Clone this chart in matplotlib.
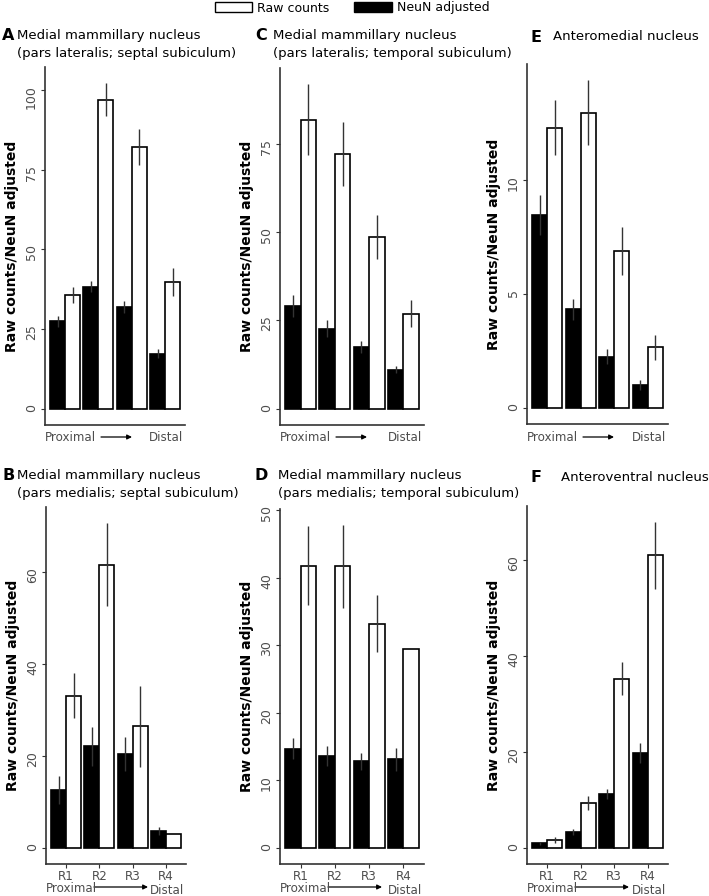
import matplotlib
matplotlib.use('Agg')
import matplotlib.pyplot as plt
from matplotlib.patches import Patch
import numpy as np

W, H, DPI = 709, 896, 100

regions = ['R1', 'R2', 'R3', 'R4']

# Panel A: Medial mammillary nucleus (pars lateralis; septal subiculum)
A_neun = [27.4, 38.3, 32.0, 17.2]
A_neun_err = [1.8, 1.8, 1.9, 1.4]
A_raw = [35.6, 96.9, 82.1, 39.8]
A_raw_err = [2.5, 5.2, 5.7, 4.3]

# Panel B: Medial mammillary nucleus (pars medialis; septal subiculum)
B_neun = [12.6, 22.1, 20.4, 3.6]
B_neun_err = [3.0, 4.3, 3.7, 0.9]
B_raw = [33.1, 61.7, 26.5, 3.0]
B_raw_err = [4.9, 9.0, 8.8, 0.0]

# Panel C: Medial mammillary nucleus (pars lateralis; temporal subiculum)
C_neun = [29.1, 22.7, 17.5, 11.1]
C_neun_err = [3.2, 2.3, 1.7, 1.1]
C_raw = [81.8, 72.0, 48.6, 26.9]
C_raw_err = [10.0, 9.0, 6.2, 3.8]

# Panel D: Medial mammillary nucleus (pars medialis; temporal subiculum)
D_neun = [14.7, 13.6, 12.8, 13.1]
D_neun_err = [1.6, 1.5, 1.2, 1.7]
D_raw = [41.8, 41.7, 33.2, 29.4]
D_raw_err = [5.8, 6.1, 4.2, 0.0]

# Panel E: Anteromedial nucleus
E_neun = [8.46, 4.32, 2.24, 1.00]
E_neun_err = [0.88, 0.47, 0.32, 0.22]
E_raw = [12.31, 12.96, 6.90, 2.65]
E_raw_err = [1.22, 1.43, 1.06, 0.56]

# Panel F: Anteroventral nucleus
F_neun = [0.9, 3.3, 11.2, 19.7]
F_neun_err = [0.3, 0.6, 1.1, 2.1]
F_raw = [1.6, 9.3, 35.2, 60.9]
F_raw_err = [0.6, 1.4, 3.4, 6.9]

A_ticks = [0, 25, 50, 75, 100]
B_ticks = [0, 20, 40, 60]
C_ticks = [0, 25, 50, 75]
D_ticks = [0, 10, 20, 30, 40, 50]
E_ticks = [0, 5, 10]
F_ticks = [0, 20, 40, 60]

panels = [
    dict(letter='A', title=['Medial mammillary nucleus', '(pars lateralis; septal subiculum)'],
         neun=A_neun, nerr=A_neun_err, raw=A_raw, rerr=A_raw_err, ticks=A_ticks,
         box=(45, 185, 67, 425), lpos=(2, 17, 35), bottom=False),
    dict(letter='C', title=['Medial mammillary nucleus', '(pars lateralis; temporal subiculum)'],
         neun=C_neun, nerr=C_neun_err, raw=C_raw, rerr=C_raw_err, ticks=C_ticks,
         box=(280, 424, 68, 425), lpos=(255, 273, 35), bottom=False),
    dict(letter='E', title=['Anteromedial nucleus'],
         neun=E_neun, nerr=E_neun_err, raw=E_raw, rerr=E_raw_err, ticks=E_ticks,
         box=(527, 668, 64, 424), lpos=(530, 553, 37), bottom=False),
    dict(letter='B', title=['Medial mammillary nucleus', '(pars medialis; septal subiculum)'],
         neun=B_neun, nerr=B_neun_err, raw=B_raw, rerr=B_raw_err, ticks=B_ticks,
         box=(46, 186, 507, 864), lpos=(2, 17, 475), bottom=True),
    dict(letter='D', title=['Medial mammillary nucleus', '(pars medialis; temporal subiculum)'],
         neun=D_neun, nerr=D_neun_err, raw=D_raw, rerr=D_raw_err, ticks=D_ticks,
         box=(280, 424, 509, 864), lpos=(255, 278, 475), bottom=True),
    dict(letter='F', title=['Anteroventral nucleus'],
         neun=F_neun, nerr=F_neun_err, raw=F_raw, rerr=F_raw_err, ticks=F_ticks,
         box=(527, 668, 506, 864), lpos=(530, 561, 477), bottom=True),
]

plt.rcParams['font.family'] = ['DejaVu Sans']

fig = plt.figure(figsize=(W / DPI, H / DPI), dpi=DPI)


def fx(x):
    return x / W


def fy(y):
    return 1 - y / H


axis_col = '#333333'
tick_col = '#4d4d4d'

for p in panels:
    l, r, t, b = p['box']
    ax = fig.add_axes([fx(l), fy(b), (r - l) / W, (b - t) / H])
    x = np.arange(1, 5)
    w = 0.45
    neun = np.array(p['neun'])
    nerr = np.array(p['nerr'])
    raw = np.array(p['raw'])
    rerr = np.array(p['rerr'])
    ax.bar(x - w / 2, neun, w, color='black', edgecolor='black', linewidth=1.2, zorder=2)
    ax.bar(x + w / 2, raw, w, color='white', edgecolor='black', linewidth=1.2, zorder=2)
    ax.vlines(x - w / 2, neun - nerr, neun + nerr, color='#333333', linewidth=1.0, zorder=3)
    ax.vlines(x + w / 2, raw - rerr, raw + rerr, color='#333333', linewidth=1.0, zorder=3)
    top = max((neun + nerr).max(), (raw + rerr).max())
    ax.set_ylim(-0.05 * top, 1.05 * top)
    ax.set_xlim(0.4, 4.6)
    for s in ['top', 'right']:
        ax.spines[s].set_visible(False)
    for s in ['left', 'bottom']:
        ax.spines[s].set_color(axis_col)
        ax.spines[s].set_linewidth(1.2)
    ax.set_yticks(p['ticks'])
    ax.set_yticklabels([str(v) for v in p['ticks']])
    ax.tick_params(axis='y', labelrotation=90, length=3, width=0.8, color=axis_col,
                   labelsize=9, labelcolor=tick_col, pad=2)
    ax.set_ylabel('Raw counts/NeuN adjusted', fontsize=10, fontweight='bold', color='black')
    ax.yaxis.set_label_coords(-26 / (r - l), 0.5)
    if p['bottom']:
        ax.set_xticks(x)
        ax.set_xticklabels(regions)
        ax.tick_params(axis='x', length=3, width=0.8, color=axis_col, labelsize=8.6,
                       labelcolor=tick_col, pad=1)
        # Proximal -> Distal
        fig.text(fx(l), fy(888.5), 'Proximal', fontsize=8.6, color=tick_col, ha='left', va='center')
        fig.text(fx(r - 2), fy(890), 'Distal', fontsize=8.6, color=tick_col, ha='right', va='center')
        ax.annotate('', xy=(fx(l + 102), fy(887)), xytext=(fx(l + 48), fy(887)),
                    xycoords='figure fraction', textcoords='figure fraction',
                    arrowprops=dict(arrowstyle='-|>', color='black', lw=0.9,
                                    mutation_scale=7, shrinkA=0, shrinkB=0))
    else:
        ax.set_xticks([])
        fig.text(fx(l), fy(437), 'Proximal', fontsize=8.6, color=tick_col, ha='left', va='center')
        fig.text(fx(r - 2), fy(437), 'Distal', fontsize=8.6, color=tick_col, ha='right', va='center')
        ax.annotate('', xy=(fx(l + 87), fy(437)), xytext=(fx(l + 56), fy(437)),
                    xycoords='figure fraction', textcoords='figure fraction',
                    arrowprops=dict(arrowstyle='-|>', color='black', lw=0.9,
                                    mutation_scale=7, shrinkA=0, shrinkB=0))
    lx, tx, ty = p['lpos']
    fig.text(fx(lx), fy(ty), p['letter'], fontsize=11.5, fontweight='bold', ha='left', va='center')
    for i, line in enumerate(p['title']):
        fig.text(fx(tx), fy(ty + 18 * i), line, fontsize=9.5, ha='left', va='center')

handles = [Patch(facecolor='white', edgecolor='black', linewidth=1.0, label='Raw counts'),
           Patch(facecolor='black', edgecolor='black', linewidth=1.0, label='NeuN adjusted')]
fig.legend(handles=handles, loc='center', bbox_to_anchor=(fx(352), fy(8)), ncol=2,
           frameon=False, fontsize=9, handlelength=3.0, handleheight=0.85,
           handletextpad=0.4, columnspacing=2.0, borderaxespad=0, borderpad=0)

fig.savefig('out.png', dpi=DPI)
